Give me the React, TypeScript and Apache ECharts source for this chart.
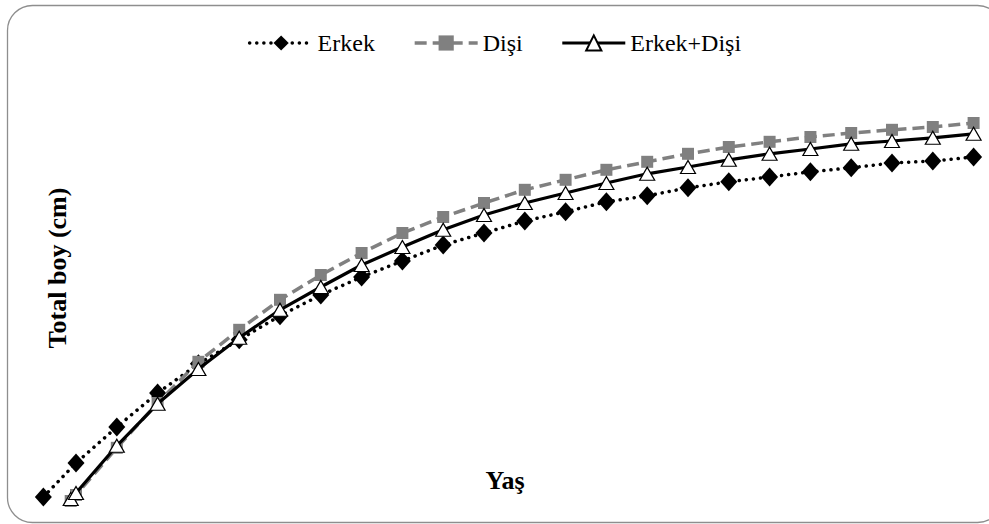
import React, { useEffect, useRef } from "react";
import * as echarts from "echarts";

// Age (years) and total length (cm) for each group
const ageErkek = [0.2, 1, 2, 3, 4, 5, 6, 7, 8, 9, 10, 11, 12, 13, 14, 15, 16, 17, 18, 19, 20, 21, 22, 23];
const ageDisi = [0.87, 1, 2, 3, 4, 5, 6, 7, 8, 9, 10, 11, 12, 13, 14, 15, 16, 17, 18, 19, 20, 21, 22, 23];

const erkek = [4.5, 13.0, 22.0, 30.5, 37.8, 43.8, 49.8, 55.0, 59.5, 63.5, 67.5, 70.5, 73.5, 75.8, 78.3, 79.8, 81.8, 83.3, 84.5, 85.8, 86.8, 88.0, 88.5, 89.5];
const disi = [3.5, 5.0, 16.8, 28.0, 38.3, 46.3, 53.8, 60.0, 65.5, 70.5, 74.5, 78.0, 81.3, 83.8, 86.3, 88.3, 90.3, 92.0, 93.3, 94.5, 95.5, 96.3, 97.0, 98.0];
const erkekDisi = [4.0, 5.5, 17.3, 27.8, 36.5, 44.3, 51.3, 57.0, 62.5, 67.0, 71.3, 75.0, 78.0, 80.5, 83.0, 85.3, 87.0, 88.8, 90.3, 91.5, 92.8, 93.5, 94.3, 95.3];

const seriesNames = ["Erkek", "Dişi", "Erkek+Dişi"];
const xTitle = "Yaş";
const yTitle = "Total boy (cm)";

const pairs = (xs: number[], ys: number[]) => xs.map((x, i) => [x, ys[i]]);

const serif = "'Liberation Serif', 'Times New Roman', 'DejaVu Serif', serif";

const dotted = { color: "#000000", width: 3.5, type: [0.1, 7], cap: "round" };
const dashed = { color: "#808080", width: 3.5, type: [12, 6] };
const solid = { color: "#000000", width: 3.2, type: "solid" };

export default function App() {
  const ref = useRef<HTMLDivElement>(null);

  useEffect(() => {
    if (!ref.current) return;
    const chart = echarts.init(ref.current, null, { renderer: "svg" });
    chart.setOption({
      animation: false,
      backgroundColor: "#ffffff",
      grid: { left: 35.2, right: 15.4, top: 35, bottom: 9, containLabel: false },
      xAxis: {
        type: "value",
        min: 0,
        max: 23,
        axisLine: { show: false },
        axisTick: { show: false },
        axisLabel: { show: false },
        splitLine: { show: false },
      },
      yAxis: {
        type: "value",
        min: 0,
        max: 120,
        axisLine: { show: false },
        axisTick: { show: false },
        axisLabel: { show: false },
        splitLine: { show: false },
      },
      legend: {
        top: 26,
        left: "center",
        itemWidth: 63,
        itemHeight: 19,
        itemGap: 38,
        textStyle: { fontFamily: serif, fontSize: 24, color: "#000" },
        data: [
          { name: seriesNames[0], lineStyle: dotted },
          { name: seriesNames[1], lineStyle: dashed },
          { name: seriesNames[2], lineStyle: solid },
        ],
      },
      graphic: [
        {
          type: "rect",
          shape: { x: 7.5, y: 5.5, width: 995, height: 517, r: 25 },
          style: { fill: "none", stroke: "#8e8e8e", lineWidth: 1.3 },
          silent: true,
        },
        {
          type: "text",
          x: 505,
          y: 480,
          style: {
            text: xTitle,
            font: `bold 26px ${serif}`,
            fill: "#000",
            textAlign: "center",
            textVerticalAlign: "middle",
          },
        },
        {
          type: "text",
          x: 57,
          y: 268,
          rotation: Math.PI / 2,
          style: {
            text: yTitle,
            font: `bold 26px ${serif}`,
            fill: "#000",
            textAlign: "center",
            textVerticalAlign: "middle",
          },
        },
      ],
      series: [
        {
          name: seriesNames[0],
          type: "line",
          data: pairs(ageErkek, erkek),
          clip: false,
          symbol: "diamond",
          symbolSize: [17, 19],
          itemStyle: { color: "#000000" },
          lineStyle: dotted,
          z: 2,
        },
        {
          name: seriesNames[1],
          type: "line",
          data: pairs(ageDisi, disi),
          clip: false,
          symbol: "rect",
          symbolSize: 12,
          itemStyle: { color: "#808080" },
          lineStyle: dashed,
          z: 3,
        },
        {
          name: seriesNames[2],
          type: "line",
          data: pairs(ageDisi, erkekDisi),
          clip: false,
          symbol: "triangle",
          symbolSize: [15, 13],
          itemStyle: { color: "#ffffff", borderColor: "#000000", borderWidth: 1.2 },
          lineStyle: solid,
          z: 4,
        },
      ],
    });
    return () => chart.dispose();
  }, []);

  return (
    <div
      ref={ref}
      style={{ position: "fixed", left: 0, top: 0, width: 989, height: 524, background: "#fff" }}
    />
  );
}
